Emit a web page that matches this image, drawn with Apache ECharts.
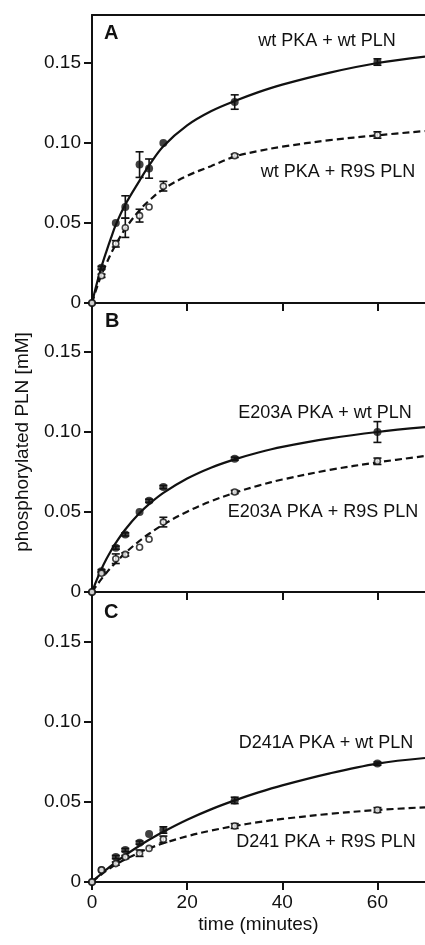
<!DOCTYPE html>
<html>
<head>
<meta charset="utf-8">
<script src="https://cdn.jsdelivr.net/npm/echarts@6/dist/echarts.min.js"></script>
<style>
html, body { margin: 0; padding: 0; background: #fff; }
#chart { width: 425px; height: 945px; }
</style>
</head>
<body>
<div id="chart"></div>
<script>
// measured time points (minutes)
const times = [0, 2, 5, 7, 10, 12, 15, 30, 60]
const fitTimes = [0, 1, 2, 3, 4, 5, 7, 10, 12, 15, 20, 25, 30, 35, 40, 50, 60, 70]
const yTicks = [0, 0.05, 0.10, 0.15]
const xTicks = [0, 20, 40, 60]
const panelNames = ['A', 'B', 'C']
const wtLabels = ['wt PKA + wt PLN', 'E203A PKA + wt PLN', 'D241A PKA + wt PLN']
const r9sLabels = ['wt PKA + R9S PLN', 'E203A PKA + R9S PLN', 'D241 PKA + R9S PLN']

// panel A
const wtA = [0, 0.022, 0.050, 0.060, 0.0865, 0.084, 0.100, 0.1256, 0.1506]
const wtAErr = [0, 0.001, 0, 0.007, 0.008, 0.006, 0, 0.0045, 0.002]
const r9sA = [0, 0.017, 0.037, 0.047, 0.0546, 0.060, 0.073, 0.092, 0.105]
const r9sAErr = [0, 0.001, 0.002, 0.006, 0.004, 0, 0.003, 0.001, 0.002]
const wtAFit = [0, 0.0120, 0.0227, 0.0320, 0.0407, 0.0488, 0.0615, 0.0765, 0.0860, 0.0980, 0.1110, 0.1198, 0.1262, 0.1318, 0.1365, 0.1440, 0.1500, 0.1540]
const r9sAFit = [0, 0.0095, 0.0178, 0.0245, 0.0310, 0.0365, 0.0465, 0.0580, 0.0640, 0.0712, 0.0795, 0.0855, 0.0915, 0.0950, 0.0977, 0.1018, 0.1048, 0.1075]

// panel B
const wtB = [0, 0.013, 0.0277, 0.036, 0.050, 0.057, 0.0656, 0.0833, 0.100]
const wtBErr = [0, 0.001, 0.001, 0.001, 0, 0.001, 0.001, 0.001, 0.0065]
const r9sB = [0, 0.0117, 0.0208, 0.0235, 0.028, 0.033, 0.0437, 0.0625, 0.0817]
const r9sBErr = [0, 0.001, 0.003, 0.001, 0, 0, 0.003, 0.001, 0.002]
const wtBFit = [0, 0.0076, 0.0144, 0.0204, 0.0258, 0.0307, 0.0391, 0.0493, 0.0549, 0.0619, 0.0709, 0.0777, 0.0829, 0.0872, 0.0907, 0.0960, 0.1000, 0.1030]
const r9sBFit = [0, 0.0042, 0.0082, 0.0119, 0.0153, 0.0185, 0.0244, 0.0320, 0.0364, 0.0422, 0.0502, 0.0567, 0.0620, 0.0665, 0.0703, 0.0763, 0.0810, 0.0850]

// panel C
const wtC = [0, 0.0075, 0.0156, 0.020, 0.0246, 0.030, 0.0325, 0.051, 0.074]
const wtCErr = [0, 0, 0.001, 0.001, 0.001, 0, 0.002, 0.002, 0.001]
const r9sC = [0, 0.0075, 0.0115, 0.0156, 0.018, 0.021, 0.0267, 0.035, 0.045]
const r9sCErr = [0, 0, 0.001, 0.001, 0.002, 0, 0.002, 0.0015, 0.0015]
const wtCFit = [0, 0.0027, 0.0053, 0.0077, 0.0101, 0.0124, 0.0168, 0.0227, 0.0264, 0.0314, 0.0389, 0.0454, 0.0510, 0.0560, 0.0604, 0.0679, 0.0740, 0.0775]
const r9sCFit = [0, 0.0025, 0.0048, 0.0070, 0.0090, 0.0109, 0.0142, 0.0185, 0.0210, 0.0242, 0.0286, 0.0321, 0.0350, 0.0374, 0.0394, 0.0426, 0.0450, 0.0467]

const panels = [
    { wt: wtA, wtErr: wtAErr, r9s: r9sA, r9sErr: r9sAErr, wtFit: wtAFit, r9sFit: r9sAFit },
    { wt: wtB, wtErr: wtBErr, r9s: r9sB, r9sErr: r9sBErr, wtFit: wtBFit, r9sFit: r9sBFit },
    { wt: wtC, wtErr: wtCErr, r9s: r9sC, r9sErr: r9sCErr, wtFit: wtCFit, r9sFit: r9sCFit }
]

const ink = '#111'
const font = "'Liberation Sans', Arial, sans-serif"
const gridTops = [15, 304, 594]
const wtTextPos = [[327, 41], [325, 413], [326, 743]]
const r9sTextPos = [[338, 172], [323, 512], [326, 842]]
const letterPos = [[104, 33], [105, 321], [104, 612]]

function pairs(xs, ys) {
    return xs.map((x, k) => [x, ys[k]])
}

function errSeries(i, vals, errs) {
    return {
        type: 'custom',
        xAxisIndex: i,
        yAxisIndex: i,
        z: 3,
        silent: true,
        data: times.map((t, k) => [t, vals[k] - errs[k], vals[k] + errs[k]]),
        renderItem: function (params, api) {
            const lo = api.coord([api.value(0), api.value(1)])
            const hi = api.coord([api.value(0), api.value(2)])
            if (lo[1] - hi[1] < 1) return { type: 'group', children: [] }
            const w = 4
            const st = { stroke: ink, lineWidth: 1.6 }
            return {
                type: 'group',
                children: [
                    { type: 'line', shape: { x1: lo[0], y1: lo[1], x2: hi[0], y2: hi[1] }, style: st },
                    { type: 'line', shape: { x1: lo[0] - w, y1: lo[1], x2: lo[0] + w, y2: lo[1] }, style: st },
                    { type: 'line', shape: { x1: hi[0] - w, y1: hi[1], x2: hi[0] + w, y2: hi[1] }, style: st }
                ]
            }
        }
    }
}

let grid = [], xAxis = [], yAxis = [], series = [], graphic = []

panels.forEach((p, i) => {
    grid.push({ left: 92, width: 336, top: gridTops[i], height: 288 })
    xAxis.push({
        type: 'value',
        gridIndex: i,
        min: 0,
        max: 70,
        name: i === 2 ? 'time (minutes)' : '',
        nameLocation: 'middle',
        nameGap: 33,
        nameTextStyle: { color: ink, fontSize: 19, fontFamily: font },
        axisLine: { onZero: false, lineStyle: { color: ink, width: 2 } },
        axisTick: { show: true, length: 8, lineStyle: { color: ink, width: 2 }, customValues: xTicks },
        axisLabel: { show: i === 2, color: ink, fontSize: 19, fontFamily: font, margin: 11, customValues: xTicks },
        splitLine: { show: false }
    })
    yAxis.push({
        type: 'value',
        gridIndex: i,
        min: 0,
        max: 0.18,
        axisLine: { show: true, onZero: false, lineStyle: { color: ink, width: 2 } },
        axisTick: { show: true, length: 8, lineStyle: { color: ink, width: 2 }, customValues: yTicks },
        axisLabel: {
            color: ink, fontSize: 19, fontFamily: font, margin: 11, customValues: yTicks,
            formatter: v => (v === 0 ? '0' : v.toFixed(2))
        },
        splitLine: { show: false }
    })

    series.push({
        type: 'line', xAxisIndex: i, yAxisIndex: i, smooth: 0.35, showSymbol: false, silent: true, z: 2,
        data: pairs(fitTimes, p.wtFit),
        lineStyle: { color: ink, width: 2.2 }
    })
    series.push({
        type: 'line', xAxisIndex: i, yAxisIndex: i, smooth: 0.35, showSymbol: false, silent: true, z: 2,
        data: pairs(fitTimes, p.r9sFit),
        lineStyle: { color: ink, width: 2.2, type: [7, 4] }
    })
    series.push(errSeries(i, p.wt, p.wtErr))
    series.push(errSeries(i, p.r9s, p.r9sErr))
    series.push({
        type: 'scatter', xAxisIndex: i, yAxisIndex: i, symbol: 'circle', symbolSize: 8, z: 4,
        data: pairs(times, p.wt),
        itemStyle: { color: ink }
    })
    series.push({
        type: 'scatter', xAxisIndex: i, yAxisIndex: i, symbol: 'circle', symbolSize: 6, z: 5,
        data: pairs(times, p.r9s),
        itemStyle: { color: '#fff', borderColor: ink, borderWidth: 1.6 }
    })

    graphic.push({
        type: 'text', left: letterPos[i][0], top: letterPos[i][1] - 10,
        style: { text: panelNames[i], font: 'bold 20px ' + font, fill: ink }
    })
    graphic.push({
        type: 'text', x: wtTextPos[i][0], y: wtTextPos[i][1],
        style: { text: wtLabels[i], font: '18px ' + font, fill: ink, align: 'center', verticalAlign: 'middle' }
    })
    graphic.push({
        type: 'text', x: r9sTextPos[i][0], y: r9sTextPos[i][1],
        style: { text: r9sLabels[i], font: '18px ' + font, fill: ink, align: 'center', verticalAlign: 'middle' }
    })
})

// top frame line of panel A
xAxis.push({
    type: 'value', gridIndex: 0, position: 'top', min: 0, max: 70,
    axisLine: { onZero: false, lineStyle: { color: ink, width: 2 } },
    axisTick: { show: false }, axisLabel: { show: false }, splitLine: { show: false }
})

graphic.push({
    type: 'text', x: 23, y: 442, rotation: Math.PI / 2,
    style: { text: 'phosphorylated PLN [mM]', font: '19px ' + font, fill: ink, align: 'center', verticalAlign: 'middle' }
})

let myChart = echarts.init(document.getElementById('chart'))
myChart.setOption({
    animation: false,
    backgroundColor: '#fff',
    grid: grid,
    xAxis: xAxis,
    yAxis: yAxis,
    series: series,
    graphic: graphic
})
</script>
</body>
</html>
